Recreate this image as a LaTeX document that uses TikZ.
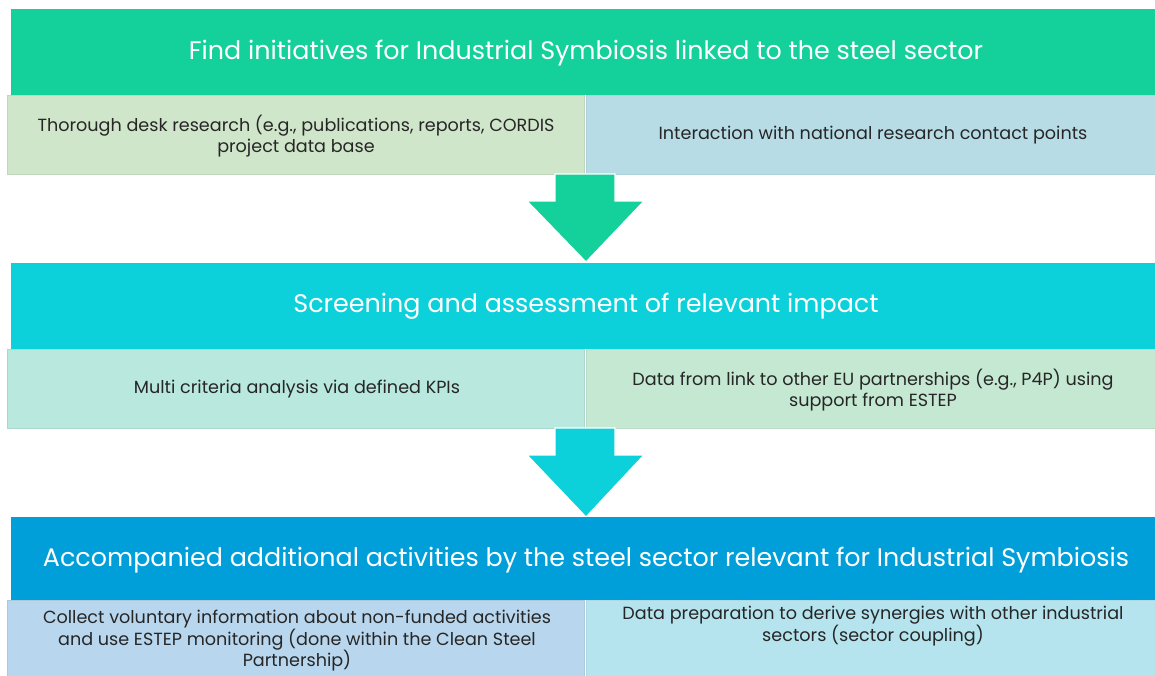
\documentclass[tikz,border=0pt]{standalone}
\usepackage{fontspec}
\setmainfont{Poppins}
\definecolor{hA}{HTML}{14D09A}
\definecolor{hB}{HTML}{0DD1DA}
\definecolor{hC}{HTML}{009FD9}
\definecolor{sAl}{HTML}{D0E6CB}
\definecolor{sAr}{HTML}{B8DCE6}
\definecolor{sBl}{HTML}{B8E8DE}
\definecolor{sBr}{HTML}{C5E8D2}
\definecolor{sCl}{HTML}{B8D7EE}
\definecolor{sCr}{HTML}{B5E4EE}
\definecolor{txt}{HTML}{262626}
\begin{document}
\begin{tikzpicture}[x=1pt,y=-1pt,
  header/.style={inner sep=0pt, text=white, font=\fontsize{25.4}{30}\selectfont},
  subtxt/.style={inner sep=0pt, text=txt, align=center, font=\fontsize{17.6}{21.5}\selectfont},
  subbox/.style={line width=0.8pt},
  arrowshape/.style={draw=white, line width=1.2pt}]
\useasboundingbox (0,0) rectangle (1155,675);
\fill[white] (0,0) rectangle (1155,675);
% level 1
\fill[hA] (11,9) rectangle (1155,95);
\filldraw[subbox, fill=sAl, draw=sAl!93!black] (7.5,95) rectangle (584,174);
\filldraw[subbox, fill=sAr, draw=sAr!95!black] (586,95) rectangle (1156,174);
\node[header] (h1) at (586,53) {Find initiatives for Industrial Symbiosis linked to the steel sector};
\node[subtxt] (s1l) at (296,136) {Thorough desk research (e.g., publications, reports, CORDIS\\project data base};
\node[subtxt] (s1r) at (873,135) {Interaction with national research contact points};
% arrow 1
\filldraw[hA, arrowshape] (555,174) -- (615,174) -- (615,201) -- (644,201) -- (586,262) -- (527,201) -- (555,201) -- cycle;
% level 2
\fill[hB] (11,263) rectangle (1155,349);
\filldraw[subbox, fill=sBl, draw=sBl!93!black] (7.5,349) rectangle (584,428);
\filldraw[subbox, fill=sBr, draw=sBr!95!black] (586,349) rectangle (1156,428);
\node[header] (h2) at (586,306) {Screening and assessment of relevant impact};
\node[subtxt] (s2l) at (297,389) {Multi criteria analysis via defined KPIs};
\node[subtxt] (s2r) at (873,390) {Data from link to other EU partnerships (e.g., P4P) using\\support from ESTEP};
% arrow 2
\filldraw[hB, arrowshape] (555,428) -- (615,428) -- (615,455) -- (644,455) -- (586,517) -- (527,455) -- (555,455) -- cycle;
% level 3
\fill[hC] (11,517) rectangle (1155,600);
\filldraw[subbox, fill=sCl, draw=sCl!93!black] (7.5,600) rectangle (584,676);
\filldraw[subbox, fill=sCr, draw=sCr!95!black] (586,600) rectangle (1156,676);
\node[header] (h3) at (586,560) {Accompanied additional activities by the steel sector relevant for Industrial Symbiosis};
\node[subtxt] (s3l) at (297,641) {Collect voluntary information about non-funded activities\\and use ESTEP monitoring (done within the Clean Steel\\Partnership)};
\node[subtxt] (s3r) at (873,626) {Data preparation to derive synergies with other industrial\\sectors (sector coupling)};
\end{tikzpicture}
\end{document}
